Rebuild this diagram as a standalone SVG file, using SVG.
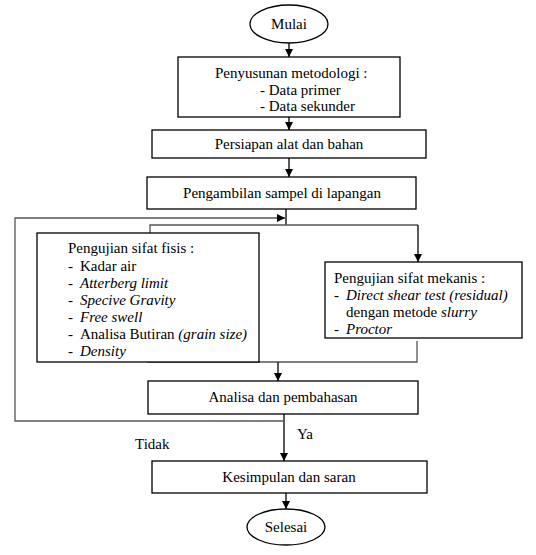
<svg xmlns="http://www.w3.org/2000/svg" width="536" height="555" viewBox="0 0 536 555" font-family="'Liberation Serif', 'DejaVu Serif', 'Times New Roman', serif" font-size="15">
<style>
  .box{fill:#fff;stroke:#000;stroke-width:1.3}
  .ln{fill:none;stroke:#000;stroke-width:1.3}
  .lnf{fill:none;stroke:#555;stroke-width:1.3}
  text{fill:#000}
  .c{text-anchor:middle}
  .i{font-style:italic}
</style>
<defs>
  <marker id="ah" viewBox="0 0 8 8" refX="8" refY="4" markerWidth="8" markerHeight="8" markerUnits="userSpaceOnUse" orient="auto">
    <path d="M0,0 L8,4 L0,8 Z" fill="#000"/>
  </marker>
</defs>
<rect width="536" height="555" fill="#fff"/>
<g id="connectors">
  <line class="ln" x1="289" y1="43" x2="289" y2="57" marker-end="url(#ah)"/>
  <line class="ln" x1="289" y1="117" x2="289" y2="130" marker-end="url(#ah)"/>
  <line class="ln" x1="289" y1="158" x2="289" y2="177" marker-end="url(#ah)"/>
  <line class="ln" x1="286" y1="209" x2="286" y2="225"/>
  <polyline class="lnf" points="150,233 150,225 418,225"/>
  <polyline class="ln" points="418,225 418,262" marker-end="url(#ah)"/>
  <polyline class="lnf" points="148,354 148,362 417,362 417,341"/>
  <line class="ln" x1="278" y1="362" x2="278" y2="381" marker-end="url(#ah)"/>
  <line class="ln" x1="284" y1="414" x2="284" y2="461" marker-end="url(#ah)"/>
  <polyline class="lnf" points="284,421 15,421 15,218 285,218" marker-end="url(#ah)"/>
  <line class="ln" x1="286" y1="493" x2="286" y2="509" marker-end="url(#ah)"/>
  <text x="297" y="439">Ya</text>
  <text x="135" y="449">Tidak</text>
</g>
<g id="mulai">
  <ellipse class="box" cx="289" cy="24" rx="39" ry="19"/>
  <text class="c" x="289" y="29">Mulai</text>
</g>
<g id="metodologi">
  <rect class="box" x="178" y="57" width="222" height="60"/>
  <text x="215" y="78">Penyusunan metodologi :</text>
  <text x="260" y="95">- Data primer</text>
  <text x="260" y="111">- Data sekunder</text>
</g>
<g id="persiapan">
  <rect class="box" x="152" y="130" width="274" height="28"/>
  <text class="c" x="289" y="149">Persiapan alat dan bahan</text>
</g>
<g id="pengambilan">
  <rect class="box" x="147" y="177" width="269" height="32"/>
  <text class="c" x="282" y="198">Pengambilan sampel di lapangan</text>
</g>
<g id="fisis">
  <rect class="box" x="37" y="233" width="222" height="129"/>
  <text x="68" y="253">Pengujian sifat fisis :</text>
  <text x="68" y="271">-<tspan x="80">Kadar air</tspan></text>
  <text x="68" y="288">-<tspan x="80" class="i">Atterberg limit</tspan></text>
  <text x="68" y="305">-<tspan x="80" class="i">Specive Gravity</tspan></text>
  <text x="68" y="322">-<tspan x="80" class="i">Free swell</tspan></text>
  <text x="68" y="339">-<tspan x="80">Analisa Butiran </tspan><tspan class="i">(grain size)</tspan></text>
  <text x="68" y="356">-<tspan x="80" class="i">Density</tspan></text>
</g>
<g id="mekanis">
  <rect class="box" x="325" y="262" width="197" height="76"/>
  <text x="334" y="283">Pengujian sifat mekanis :</text>
  <text x="334" y="300">-<tspan x="346" class="i">Direct shear test (residual)</tspan></text>
  <text x="346" y="317">dengan metode <tspan class="i">slurry</tspan></text>
  <text x="334" y="334">-<tspan x="346" class="i">Proctor</tspan></text>
</g>
<g id="analisa">
  <rect class="box" x="148" y="381" width="270" height="33"/>
  <text class="c" x="283" y="402">Analisa dan pembahasan</text>
</g>
<g id="kesimpulan">
  <rect class="box" x="152" y="461" width="275" height="32"/>
  <text class="c" x="289" y="482">Kesimpulan dan saran</text>
</g>
<g id="selesai">
  <ellipse class="box" cx="286" cy="527" rx="39" ry="18"/>
  <text class="c" x="286" y="532">Selesai</text>
</g>
</svg>
